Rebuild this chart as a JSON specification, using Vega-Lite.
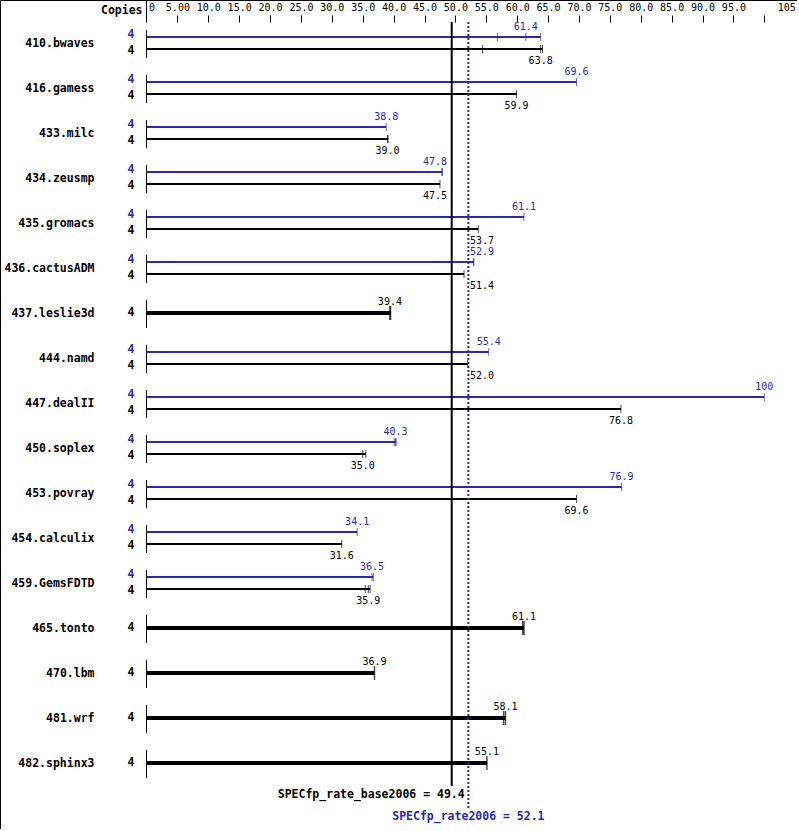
{
  "$schema": "https://vega.github.io/schema/vega-lite/v6.json",
  "width": 797,
  "height": 829,
  "padding": 0,
  "autosize": {"type": "none"},
  "background": "white",
  "config": {"view": {"stroke": "black", "strokeWidth": 1}, "text": {"font": "DejaVu Sans Mono"}, "axis": {"labelOverlap": false, "labelBound": false, "labelFlush": false}},
  "datasets": {
    "scores": [
      {"bench": "410.bwaves", "type": "peak", "copies": 4, "score": 61.4, "hi": 63.8},
      {"bench": "410.bwaves", "type": "base", "copies": 4, "score": 63.8, "hi": 64.1},
      {"bench": "416.gamess", "type": "peak", "copies": 4, "score": 69.6, "hi": 69.6},
      {"bench": "416.gamess", "type": "base", "copies": 4, "score": 59.9, "hi": 59.9},
      {"bench": "433.milc", "type": "peak", "copies": 4, "score": 38.8, "hi": 38.8},
      {"bench": "433.milc", "type": "base", "copies": 4, "score": 39.0, "hi": 39.1},
      {"bench": "434.zeusmp", "type": "peak", "copies": 4, "score": 47.8, "hi": 47.9},
      {"bench": "434.zeusmp", "type": "base", "copies": 4, "score": 47.5, "hi": 47.5},
      {"bench": "435.gromacs", "type": "peak", "copies": 4, "score": 61.1, "hi": 61.1},
      {"bench": "435.gromacs", "type": "base", "copies": 4, "score": 53.7, "hi": 53.7},
      {"bench": "436.cactusADM", "type": "peak", "copies": 4, "score": 52.9, "hi": 53.0},
      {"bench": "436.cactusADM", "type": "base", "copies": 4, "score": 51.4, "hi": 51.4},
      {"bench": "437.leslie3d", "type": "single", "copies": 4, "score": 39.4, "hi": 39.5},
      {"bench": "444.namd", "type": "peak", "copies": 4, "score": 55.4, "hi": 55.4},
      {"bench": "444.namd", "type": "base", "copies": 4, "score": 52.0, "hi": 52.0},
      {"bench": "447.dealII", "type": "peak", "copies": 4, "score": 100, "hi": 100},
      {"bench": "447.dealII", "type": "base", "copies": 4, "score": 76.8, "hi": 76.8},
      {"bench": "450.soplex", "type": "peak", "copies": 4, "score": 40.3, "hi": 40.4},
      {"bench": "450.soplex", "type": "base", "copies": 4, "score": 35.0, "hi": 35.5},
      {"bench": "453.povray", "type": "peak", "copies": 4, "score": 76.9, "hi": 76.9},
      {"bench": "453.povray", "type": "base", "copies": 4, "score": 69.6, "hi": 69.6},
      {"bench": "454.calculix", "type": "peak", "copies": 4, "score": 34.1, "hi": 34.1},
      {"bench": "454.calculix", "type": "base", "copies": 4, "score": 31.6, "hi": 31.6},
      {"bench": "459.GemsFDTD", "type": "peak", "copies": 4, "score": 36.5, "hi": 36.7},
      {"bench": "459.GemsFDTD", "type": "base", "copies": 4, "score": 35.9, "hi": 36.2},
      {"bench": "465.tonto", "type": "single", "copies": 4, "score": 61.1, "hi": 61.1},
      {"bench": "470.lbm", "type": "single", "copies": 4, "score": 36.9, "hi": 36.9},
      {"bench": "481.wrf", "type": "single", "copies": 4, "score": 58.1, "hi": 58.1},
      {"bench": "482.sphinx3", "type": "single", "copies": 4, "score": 55.1, "hi": 55.1}
    ],
    "runs": [
      {"bench": "410.bwaves", "type": "peak", "value": 56.8},
      {"bench": "410.bwaves", "type": "peak", "value": 61.4},
      {"bench": "410.bwaves", "type": "peak", "value": 63.8},
      {"bench": "410.bwaves", "type": "base", "value": 54.4},
      {"bench": "410.bwaves", "type": "base", "value": 63.8},
      {"bench": "410.bwaves", "type": "base", "value": 64.1},
      {"bench": "416.gamess", "type": "peak", "value": 69.6},
      {"bench": "416.gamess", "type": "base", "value": 59.9},
      {"bench": "433.milc", "type": "peak", "value": 38.8},
      {"bench": "433.milc", "type": "base", "value": 39.0},
      {"bench": "433.milc", "type": "base", "value": 39.1},
      {"bench": "434.zeusmp", "type": "peak", "value": 47.8},
      {"bench": "434.zeusmp", "type": "peak", "value": 47.9},
      {"bench": "434.zeusmp", "type": "base", "value": 47.5},
      {"bench": "435.gromacs", "type": "peak", "value": 61.1},
      {"bench": "435.gromacs", "type": "base", "value": 53.7},
      {"bench": "436.cactusADM", "type": "peak", "value": 52.9},
      {"bench": "436.cactusADM", "type": "peak", "value": 53.0},
      {"bench": "436.cactusADM", "type": "base", "value": 51.4},
      {"bench": "437.leslie3d", "type": "single", "value": 39.4},
      {"bench": "437.leslie3d", "type": "single", "value": 39.5},
      {"bench": "444.namd", "type": "peak", "value": 55.4},
      {"bench": "444.namd", "type": "base", "value": 52.0},
      {"bench": "447.dealII", "type": "peak", "value": 100},
      {"bench": "447.dealII", "type": "base", "value": 76.8},
      {"bench": "450.soplex", "type": "peak", "value": 40.1},
      {"bench": "450.soplex", "type": "peak", "value": 40.3},
      {"bench": "450.soplex", "type": "peak", "value": 40.4},
      {"bench": "450.soplex", "type": "base", "value": 35.0},
      {"bench": "450.soplex", "type": "base", "value": 35.5},
      {"bench": "453.povray", "type": "peak", "value": 76.9},
      {"bench": "453.povray", "type": "base", "value": 69.6},
      {"bench": "454.calculix", "type": "peak", "value": 34.1},
      {"bench": "454.calculix", "type": "base", "value": 31.6},
      {"bench": "459.GemsFDTD", "type": "peak", "value": 36.5},
      {"bench": "459.GemsFDTD", "type": "peak", "value": 36.7},
      {"bench": "459.GemsFDTD", "type": "base", "value": 35.4},
      {"bench": "459.GemsFDTD", "type": "base", "value": 35.9},
      {"bench": "459.GemsFDTD", "type": "base", "value": 36.2},
      {"bench": "465.tonto", "type": "single", "value": 60.9},
      {"bench": "465.tonto", "type": "single", "value": 61.1},
      {"bench": "470.lbm", "type": "single", "value": 36.9},
      {"bench": "481.wrf", "type": "single", "value": 57.8},
      {"bench": "481.wrf", "type": "single", "value": 58.1},
      {"bench": "482.sphinx3", "type": "single", "value": 55.1}
    ],
    "summary": [
      {"metric": "SPECfp_rate_base2006", "kind": "base", "value": 49.4},
      {"metric": "SPECfp_rate2006", "kind": "peak", "value": 52.1}
    ]
  },
  "layer": [
    {
      "data": {"name": "scores"},
      "mark": {"type": "rule", "color": "black", "strokeWidth": 1, "yOffset": -13, "y2Offset": 15},
      "encoding": {
        "x": {"datum": 0, "type": "quantitative",
          "scale": {"domain": [-23.713, 105.293], "nice": false, "zero": false},
          "axis": {
            "orient": "top", "offset": -22, "domain": false, "grid": false,
            "values": [0, 5, 10, 15, 20, 25, 30, 35, 40, 45, 50, 55, 60, 65, 70, 75, 80, 85, 90, 95, 100, 105],
            "tickCount": 40,
            "labelExpr": "datum.value == 0 ? '0' : datum.value == 5 ? '5.00' : datum.value == 100 ? '' : datum.value == 105 ? '105' : format(datum.value, '.1f')",
            "labelAlign": {"condition": {"test": "datum.value == 105", "value": "right"}, "value": "center"},
            "labelOffset": {"condition": {"test": "datum.value == 0", "value": 5}, "value": 0},
            "labelPadding": {"condition": {"test": "datum.value == 0", "value": -12}, "value": 3},
            "tickSize": {"condition": {"test": "datum.value == 0", "value": 22}, "value": 7},
            "tickOpacity": {"condition": {"test": "datum.value == 105", "value": 0}, "value": 1},
            "tickColor": "black", "tickWidth": 1,
            "labelFont": "DejaVu Sans Mono", "labelFontSize": 10, "labelColor": "black",
            "labelOverlap": false, "labelBound": false, "labelFlush": false,
            "title": "Copies", "titleX": 142, "titleY": -12, "titleAlign": "right", "titleBaseline": "middle",
            "titleFont": "DejaVu Sans Mono", "titleFontSize": 11.5, "titleFontWeight": "bold", "titleColor": "black", "titleAngle": 0
          }
        },
        "y": {"field": "bench", "type": "nominal",
          "scale": {"type": "point", "domain": ["410.bwaves", "416.gamess", "433.milc", "434.zeusmp", "435.gromacs", "436.cactusADM", "437.leslie3d", "444.namd", "447.dealII", "450.soplex", "453.povray", "454.calculix", "459.GemsFDTD", "465.tonto", "470.lbm", "481.wrf", "482.sphinx3"], "range": [43, 763], "padding": 0},
          "axis": {"orient": "left", "offset": -95, "domain": false, "ticks": false, "grid": false, "title": null,
            "labelFont": "DejaVu Sans Mono", "labelFontSize": 11.5, "labelFontWeight": "bold", "labelColor": "black", "labelPadding": 1, "labelAlign": "right", "labelBaseline": "middle"}
        },
        "y2": {"field": "bench"}
      }
    },
    {
      "data": {"name": "scores"},
      "transform": [{"filter": "datum.type == 'peak'"}],
      "mark": {"type": "rule", "color": "#2b2ba8", "strokeWidth": 2, "yOffset": -6},
      "encoding": {
        "x": {"field": "hi", "type": "quantitative", "scale": {"domain": [-23.713, 105.293], "nice": false, "zero": false}},
        "x2": {"datum": 0},
        "y": {"field": "bench", "type": "nominal", "scale": {"type": "point", "domain": ["410.bwaves", "416.gamess", "433.milc", "434.zeusmp", "435.gromacs", "436.cactusADM", "437.leslie3d", "444.namd", "447.dealII", "450.soplex", "453.povray", "454.calculix", "459.GemsFDTD", "465.tonto", "470.lbm", "481.wrf", "482.sphinx3"], "range": [43, 763], "padding": 0}}
      }
    },
    {
      "data": {"name": "scores"},
      "transform": [{"filter": "datum.type == 'base'"}],
      "mark": {"type": "rule", "color": "black", "strokeWidth": 2, "yOffset": 6},
      "encoding": {
        "x": {"field": "hi", "type": "quantitative", "scale": {"domain": [-23.713, 105.293], "nice": false, "zero": false}},
        "x2": {"datum": 0},
        "y": {"field": "bench", "type": "nominal", "scale": {"type": "point", "domain": ["410.bwaves", "416.gamess", "433.milc", "434.zeusmp", "435.gromacs", "436.cactusADM", "437.leslie3d", "444.namd", "447.dealII", "450.soplex", "453.povray", "454.calculix", "459.GemsFDTD", "465.tonto", "470.lbm", "481.wrf", "482.sphinx3"], "range": [43, 763], "padding": 0}}
      }
    },
    {
      "data": {"name": "scores"},
      "transform": [{"filter": "datum.type == 'single'"}],
      "mark": {"type": "rule", "color": "black", "strokeWidth": 4},
      "encoding": {
        "x": {"field": "hi", "type": "quantitative", "scale": {"domain": [-23.713, 105.293], "nice": false, "zero": false}},
        "x2": {"datum": 0},
        "y": {"field": "bench", "type": "nominal", "scale": {"type": "point", "domain": ["410.bwaves", "416.gamess", "433.milc", "434.zeusmp", "435.gromacs", "436.cactusADM", "437.leslie3d", "444.namd", "447.dealII", "450.soplex", "453.povray", "454.calculix", "459.GemsFDTD", "465.tonto", "470.lbm", "481.wrf", "482.sphinx3"], "range": [43, 763], "padding": 0}}
      }
    },
    {
      "data": {"name": "runs"},
      "transform": [{"filter": "datum.type == 'peak'"}],
      "mark": {"type": "tick", "color": "#2b2ba8", "size": 8, "thickness": 1, "yOffset": -6, "orient": "vertical"},
      "encoding": {
        "x": {"field": "value", "type": "quantitative", "scale": {"domain": [-23.713, 105.293], "nice": false, "zero": false}},
        "y": {"field": "bench", "type": "nominal", "scale": {"type": "point", "domain": ["410.bwaves", "416.gamess", "433.milc", "434.zeusmp", "435.gromacs", "436.cactusADM", "437.leslie3d", "444.namd", "447.dealII", "450.soplex", "453.povray", "454.calculix", "459.GemsFDTD", "465.tonto", "470.lbm", "481.wrf", "482.sphinx3"], "range": [43, 763], "padding": 0}}
      }
    },
    {
      "data": {"name": "runs"},
      "transform": [{"filter": "datum.type == 'base'"}],
      "mark": {"type": "tick", "color": "black", "size": 8, "thickness": 1, "yOffset": 6, "orient": "vertical"},
      "encoding": {
        "x": {"field": "value", "type": "quantitative", "scale": {"domain": [-23.713, 105.293], "nice": false, "zero": false}},
        "y": {"field": "bench", "type": "nominal", "scale": {"type": "point", "domain": ["410.bwaves", "416.gamess", "433.milc", "434.zeusmp", "435.gromacs", "436.cactusADM", "437.leslie3d", "444.namd", "447.dealII", "450.soplex", "453.povray", "454.calculix", "459.GemsFDTD", "465.tonto", "470.lbm", "481.wrf", "482.sphinx3"], "range": [43, 763], "padding": 0}}
      }
    },
    {
      "data": {"name": "runs"},
      "transform": [{"filter": "datum.type == 'single'"}],
      "mark": {"type": "tick", "color": "black", "size": 14, "thickness": 1.5, "orient": "vertical"},
      "encoding": {
        "x": {"field": "value", "type": "quantitative", "scale": {"domain": [-23.713, 105.293], "nice": false, "zero": false}},
        "y": {"field": "bench", "type": "nominal", "scale": {"type": "point", "domain": ["410.bwaves", "416.gamess", "433.milc", "434.zeusmp", "435.gromacs", "436.cactusADM", "437.leslie3d", "444.namd", "447.dealII", "450.soplex", "453.povray", "454.calculix", "459.GemsFDTD", "465.tonto", "470.lbm", "481.wrf", "482.sphinx3"], "range": [43, 763], "padding": 0}}
      }
    },
    {
      "data": {"name": "scores"},
      "transform": [{"filter": "datum.type == 'peak'"}],
      "mark": {"type": "text", "color": "#2b2ba8", "align": "right", "baseline": "middle", "dx": -12, "yOffset": -8, "font": "DejaVu Sans Mono", "fontSize": 11.5, "fontWeight": "bold"},
      "encoding": {
        "x": {"datum": 0, "type": "quantitative", "scale": {"domain": [-23.713, 105.293], "nice": false, "zero": false}},
        "y": {"field": "bench", "type": "nominal", "scale": {"type": "point", "domain": ["410.bwaves", "416.gamess", "433.milc", "434.zeusmp", "435.gromacs", "436.cactusADM", "437.leslie3d", "444.namd", "447.dealII", "450.soplex", "453.povray", "454.calculix", "459.GemsFDTD", "465.tonto", "470.lbm", "481.wrf", "482.sphinx3"], "range": [43, 763], "padding": 0}},
        "text": {"field": "copies", "type": "quantitative"}
      }
    },
    {
      "data": {"name": "scores"},
      "transform": [{"filter": "datum.type == 'base'"}],
      "mark": {"type": "text", "color": "black", "align": "right", "baseline": "middle", "dx": -12, "yOffset": 8, "font": "DejaVu Sans Mono", "fontSize": 11.5, "fontWeight": "bold"},
      "encoding": {
        "x": {"datum": 0, "type": "quantitative", "scale": {"domain": [-23.713, 105.293], "nice": false, "zero": false}},
        "y": {"field": "bench", "type": "nominal", "scale": {"type": "point", "domain": ["410.bwaves", "416.gamess", "433.milc", "434.zeusmp", "435.gromacs", "436.cactusADM", "437.leslie3d", "444.namd", "447.dealII", "450.soplex", "453.povray", "454.calculix", "459.GemsFDTD", "465.tonto", "470.lbm", "481.wrf", "482.sphinx3"], "range": [43, 763], "padding": 0}},
        "text": {"field": "copies", "type": "quantitative"}
      }
    },
    {
      "data": {"name": "scores"},
      "transform": [{"filter": "datum.type == 'single'"}],
      "mark": {"type": "text", "color": "black", "align": "right", "baseline": "middle", "dx": -12, "font": "DejaVu Sans Mono", "fontSize": 11.5, "fontWeight": "bold"},
      "encoding": {
        "x": {"datum": 0, "type": "quantitative", "scale": {"domain": [-23.713, 105.293], "nice": false, "zero": false}},
        "y": {"field": "bench", "type": "nominal", "scale": {"type": "point", "domain": ["410.bwaves", "416.gamess", "433.milc", "434.zeusmp", "435.gromacs", "436.cactusADM", "437.leslie3d", "444.namd", "447.dealII", "450.soplex", "453.povray", "454.calculix", "459.GemsFDTD", "465.tonto", "470.lbm", "481.wrf", "482.sphinx3"], "range": [43, 763], "padding": 0}},
        "text": {"field": "copies", "type": "quantitative"}
      }
    },
    {
      "data": {"name": "scores"},
      "transform": [
        {"filter": "datum.type == 'peak'"},
        {"calculate": "abs(datum.score - 52.1) < 2.4 ? 54.3 : (abs(datum.score - 49.4) < 2.8 ? 46.7 : datum.score)", "as": "labx"}
      ],
      "mark": {"type": "text", "color": "#2b2ba8", "align": "center", "baseline": "middle", "yOffset": -16, "font": "DejaVu Sans Mono", "fontSize": 10},
      "encoding": {
        "x": {"field": "labx", "type": "quantitative", "scale": {"domain": [-23.713, 105.293], "nice": false, "zero": false}},
        "y": {"field": "bench", "type": "nominal", "scale": {"type": "point", "domain": ["410.bwaves", "416.gamess", "433.milc", "434.zeusmp", "435.gromacs", "436.cactusADM", "437.leslie3d", "444.namd", "447.dealII", "450.soplex", "453.povray", "454.calculix", "459.GemsFDTD", "465.tonto", "470.lbm", "481.wrf", "482.sphinx3"], "range": [43, 763], "padding": 0}},
        "text": {"field": "score", "type": "quantitative", "format": ".3r"}
      }
    },
    {
      "data": {"name": "scores"},
      "transform": [
        {"filter": "datum.type == 'base'"},
        {"calculate": "abs(datum.score - 52.1) < 2.4 ? 54.3 : (abs(datum.score - 49.4) < 2.8 ? 46.7 : datum.score)", "as": "labx"}
      ],
      "mark": {"type": "text", "color": "black", "align": "center", "baseline": "middle", "yOffset": 18, "font": "DejaVu Sans Mono", "fontSize": 10},
      "encoding": {
        "x": {"field": "labx", "type": "quantitative", "scale": {"domain": [-23.713, 105.293], "nice": false, "zero": false}},
        "y": {"field": "bench", "type": "nominal", "scale": {"type": "point", "domain": ["410.bwaves", "416.gamess", "433.milc", "434.zeusmp", "435.gromacs", "436.cactusADM", "437.leslie3d", "444.namd", "447.dealII", "450.soplex", "453.povray", "454.calculix", "459.GemsFDTD", "465.tonto", "470.lbm", "481.wrf", "482.sphinx3"], "range": [43, 763], "padding": 0}},
        "text": {"field": "score", "type": "quantitative", "format": ".3r"}
      }
    },
    {
      "data": {"name": "scores"},
      "transform": [{"filter": "datum.type == 'single'"}],
      "mark": {"type": "text", "color": "black", "align": "center", "baseline": "middle", "yOffset": -11, "font": "DejaVu Sans Mono", "fontSize": 10},
      "encoding": {
        "x": {"field": "score", "type": "quantitative", "scale": {"domain": [-23.713, 105.293], "nice": false, "zero": false}},
        "y": {"field": "bench", "type": "nominal", "scale": {"type": "point", "domain": ["410.bwaves", "416.gamess", "433.milc", "434.zeusmp", "435.gromacs", "436.cactusADM", "437.leslie3d", "444.namd", "447.dealII", "450.soplex", "453.povray", "454.calculix", "459.GemsFDTD", "465.tonto", "470.lbm", "481.wrf", "482.sphinx3"], "range": [43, 763], "padding": 0}},
        "text": {"field": "score", "type": "quantitative", "format": ".3r"}
      }
    },
    {
      "data": {"name": "summary"},
      "transform": [{"filter": "datum.kind == 'base'"}],
      "mark": {"type": "rule", "color": "black", "strokeWidth": 2, "yOffset": -21, "y2Offset": 23},
      "encoding": {
        "x": {"field": "value", "type": "quantitative", "scale": {"domain": [-23.713, 105.293], "nice": false, "zero": false}},
        "y": {"datum": "410.bwaves", "type": "nominal", "scale": {"type": "point", "domain": ["410.bwaves", "416.gamess", "433.milc", "434.zeusmp", "435.gromacs", "436.cactusADM", "437.leslie3d", "444.namd", "447.dealII", "450.soplex", "453.povray", "454.calculix", "459.GemsFDTD", "465.tonto", "470.lbm", "481.wrf", "482.sphinx3"], "range": [43, 763], "padding": 0}},
        "y2": {"datum": "482.sphinx3"}
      }
    },
    {
      "data": {"name": "summary"},
      "transform": [{"filter": "datum.kind == 'peak'"}],
      "mark": {"type": "rule", "color": "#2b2ba8", "strokeWidth": 2, "strokeDash": [2, 2], "yOffset": -21, "y2Offset": 45},
      "encoding": {
        "x": {"field": "value", "type": "quantitative", "scale": {"domain": [-23.713, 105.293], "nice": false, "zero": false}},
        "y": {"datum": "410.bwaves", "type": "nominal", "scale": {"type": "point", "domain": ["410.bwaves", "416.gamess", "433.milc", "434.zeusmp", "435.gromacs", "436.cactusADM", "437.leslie3d", "444.namd", "447.dealII", "450.soplex", "453.povray", "454.calculix", "459.GemsFDTD", "465.tonto", "470.lbm", "481.wrf", "482.sphinx3"], "range": [43, 763], "padding": 0}},
        "y2": {"datum": "482.sphinx3"}
      }
    },
    {
      "data": {"name": "summary"},
      "transform": [{"filter": "datum.kind == 'base'"}, {"calculate": "datum.metric + ' = ' + format(datum.value, '.3r')", "as": "label"}],
      "mark": {"type": "text", "color": "black", "align": "right", "baseline": "middle", "dx": 13, "yOffset": 32, "font": "DejaVu Sans Mono", "fontSize": 11.5, "fontWeight": "bold"},
      "encoding": {
        "x": {"field": "value", "type": "quantitative", "scale": {"domain": [-23.713, 105.293], "nice": false, "zero": false}},
        "y": {"datum": "482.sphinx3", "type": "nominal", "scale": {"type": "point", "domain": ["410.bwaves", "416.gamess", "433.milc", "434.zeusmp", "435.gromacs", "436.cactusADM", "437.leslie3d", "444.namd", "447.dealII", "450.soplex", "453.povray", "454.calculix", "459.GemsFDTD", "465.tonto", "470.lbm", "481.wrf", "482.sphinx3"], "range": [43, 763], "padding": 0}},
        "text": {"field": "label", "type": "nominal"}
      }
    },
    {
      "data": {"name": "summary"},
      "transform": [{"filter": "datum.kind == 'peak'"}, {"calculate": "datum.metric + ' = ' + format(datum.value, '.3r')", "as": "label"}],
      "mark": {"type": "text", "color": "#2b2ba8", "align": "center", "baseline": "middle", "yOffset": 54, "font": "DejaVu Sans Mono", "fontSize": 11.5, "fontWeight": "bold"},
      "encoding": {
        "x": {"field": "value", "type": "quantitative", "scale": {"domain": [-23.713, 105.293], "nice": false, "zero": false}},
        "y": {"datum": "482.sphinx3", "type": "nominal", "scale": {"type": "point", "domain": ["410.bwaves", "416.gamess", "433.milc", "434.zeusmp", "435.gromacs", "436.cactusADM", "437.leslie3d", "444.namd", "447.dealII", "450.soplex", "453.povray", "454.calculix", "459.GemsFDTD", "465.tonto", "470.lbm", "481.wrf", "482.sphinx3"], "range": [43, 763], "padding": 0}},
        "text": {"field": "label", "type": "nominal"}
      }
    }
  ]
}
